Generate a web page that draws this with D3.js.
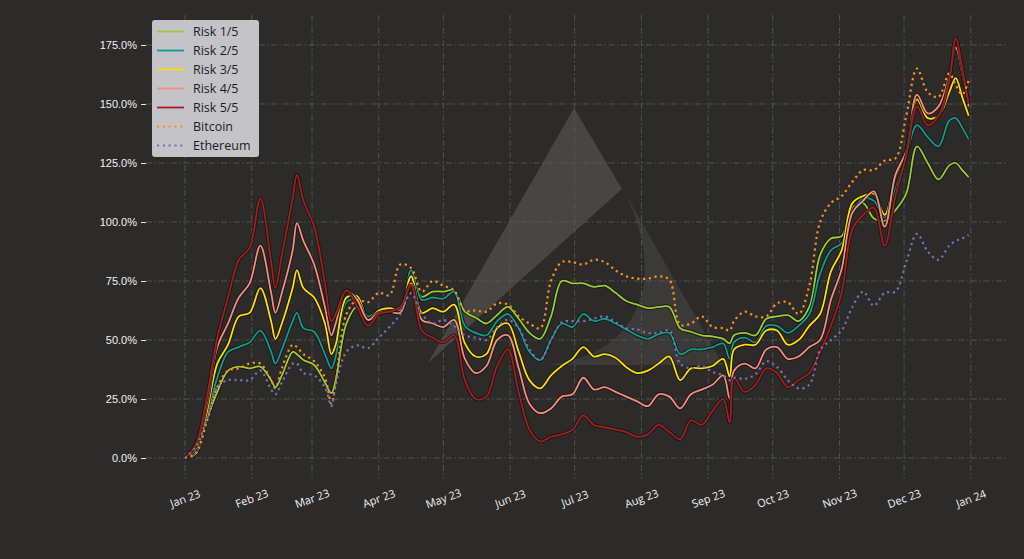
<!DOCTYPE html>
<html>
<head>
<meta charset="utf-8">
<script src="https://cdn.jsdelivr.net/npm/d3@7"></script>
<style>
  html, body { margin: 0; padding: 0; background: #2c2b29; }
  svg { display: block; font-family: "Open Sans", "Noto Sans", sans-serif; }
</style>
</head>
<body>
<svg id="chart" width="1024" height="559"></svg>
<script>
// ============================================================
// Risk portfolios vs Bitcoin / Ethereum — cumulative return 2023
// ============================================================

// day offsets from 2023-01-01
const DAYS = [0,5,10,15,20,25,30,35,40,42,45,50,52,55,60,65,68,70,75,80,85,90,95,100,105,110,115,120,125,130,135,140,145,150,155,160,165,170,175,180,185,190,195,200,205,210,215,220,225,230,235,240,245,250,253,255,260,265,270,275,280,285,290,295,300,305,310,315,320,325,330,335,340,345,350,355,358,361,364];

// cumulative return, %
const RISK_1 = [0,2,16,28,37,38.7,38,38.7,33,30,35,45,44,41.5,39.4,32,27.5,33,57,64,58.7,62,63,61.5,77.5,68.3,70.5,70.5,71,62,59.5,57,60.6,64,59,53,50.5,60,75,74,74,72.5,73,70,66.5,65,63.5,64,64,55,53.5,52,51.5,50.5,48.6,52,53,52,59,60,60.5,58,64,86,93,94,106,108,101.5,100.5,105,112,132,125,118,124,125,122,119];
const RISK_2 = [0,3,17.5,34,45,47,49,54,45,40,46,58,61.5,55,53.5,44,38,43,66,67,60,62.5,63,62,79.6,67,68,67.5,70.5,56,53,52,58,61,55,45,41.5,50,57,55.5,61,58,59,57,54.5,52,50.5,52.5,53,44,46,46,47,48.5,42,49,51,49,56,56,53,56,61,78,88,91,104,110,109,102,114,128,141,136,132,143,144,140,135];
const RISK_3 = [0,4,19,40,48,60,61.5,72,58,50.4,57,72,79.6,72,68,57,44,48,68,68.5,58.5,62.5,63.5,63,77,61.5,63.5,62,65,48.6,43,44,55,57,45,33,29.5,35,39,42,47,43,44,42.5,38.5,36,37,40,43,33,38,38,39,42,34.5,46,48,48,54,54,48,50,56,61,79,88,108,111,112,103,119,130,152,144,145,155,161,153,145];
const RISK_4 = [0,5,22.5,47,57,68,74,90,70,61.5,70,88,99.5,92,82,64,52,57,71,67,58.5,61.5,62,61.5,74,58.5,57,55.5,58.5,42,36,39,50,52,38,23,19,21,26,27,34,29,30,28,26,24,22,27,26,21,27,29,31,35,25,37,40,38,46,47,42,43,47,50,67,80,104,109,113,98,120,130,154,146,149,162,174,163,149];
const RISK_5 = [0,5.5,25,51,68,84,89,110,83,72,86,110,120,109,98,74,58,61,71,64,56,61,62,64,73,54,51,49,52,33,25,26,39,46,28,12,7,9,10,12,18,14,13,12,11,9,10,14,11,8,16,14,20,25,15,34,28,31,38,36,30,33,36,45,56,70,97,103,106,90,111,128,149,141,145,160,178,165,150];
const BITCOIN = [0,2,15,30,37,38,40,40,33,29.6,38,48,47,44,41,34,23,32,61,67,66,70,69,82,80.5,70.5,75,73,71,62.5,62.5,62,65.5,65,60,57,55,75,83,83,82,84,83,79.5,77,76,76,77,75.5,56.5,57,60,55.5,55,54,58,62,60,60,65.5,66,61,73,100,108,111,117,122,122,126,127,145,165,155,153,163,158,154,160];
const ETHEREUM = [0,4.8,16,30,33,33,33,37,29,27,32,40,40,36,35,30,22,31,45,47.7,46.5,51,55.5,61,69.8,61,57,58.5,56,52,51,50,55.5,58.5,55,46,41.5,50,57.5,58,58,59,60,57.5,55,54.5,53,53,54,40,38,39,36.5,35,33,34,33.5,35.5,41,38.5,33,29.5,31,45.7,50,54,64,70.5,64.5,70,70.5,83,95,87.5,84,90,92,93,94.5];

const SERIES_NAMES = ['Risk 1/5', 'Risk 2/5', 'Risk 3/5', 'Risk 4/5', 'Risk 5/5', 'Bitcoin', 'Ethereum'];
const Y_TICKS = [0, 25, 50, 75, 100, 125, 150, 175];
const X_TICK_LABELS = ['Jan 23','Feb 23','Mar 23','Apr 23','May 23','Jun 23','Jul 23','Aug 23','Sep 23','Oct 23','Nov 23','Dec 23','Jan 24'];

// estilos por série
const STYLES = [
  { color: '#9acd32', dotted: false },
  { color: '#129a8d', dotted: false },
  { color: '#ffdd00', dotted: false },
  { color: '#f88d7c', dotted: false },
  { color: '#a41e1b', dotted: false },
  { color: '#f7931a', dotted: true },
  { color: '#7a6fb4', dotted: true },
];

const W = 1024, H = 559;
const PLOT = { left: 146, right: 1008, top: 15, bottom: 479 };
const START = new Date(2023, 0, 1);

const dayToDate = d => new Date(2023, 0, 1 + d);

const x = d3.scaleTime()
  .domain([START, new Date(2024, 0, 1)])
  .range([185, 970.8]);

const y = d3.scaleLinear()
  .domain([0, 175])
  .range([458, 45]);

const svg = d3.select('#chart');

svg.append('rect').attr('width', W).attr('height', H).attr('fill', '#2c2b29');

// marca d'água
const wm = svg.append('g').attr('pointer-events', 'none');
wm.append('path')
  .attr('d', 'M574,108 L622,189 L428,363 Z')
  .attr('fill', '#ffffff').attr('opacity', 0.13);
wm.append('path')
  .attr('d', 'M625,193 L723,365 L548,365 C640,355 668,280 625,193 Z')
  .attr('fill', '#ffffff').attr('opacity', 0.075);

// grade
const grid = svg.append('g').attr('stroke', '#5b5a58').attr('stroke-width', 0.8)
  .attr('stroke-dasharray', '6,2.5,1.5,2.5');
const monthTicks = X_TICK_LABELS.map((_, i) => new Date(2023, i, 1));
grid.selectAll('line.v')
  .data(monthTicks)
  .join('line')
  .attr('class', 'v')
  .attr('x1', d => x(d)).attr('x2', d => x(d))
  .attr('y1', PLOT.top).attr('y2', PLOT.bottom);
grid.selectAll('line.h')
  .data(Y_TICKS)
  .join('line')
  .attr('class', 'h')
  .attr('x1', PLOT.left).attr('x2', PLOT.right)
  .attr('y1', d => y(d)).attr('y2', d => y(d));

// eixo Y
const yAxis = d3.axisLeft(y)
  .tickValues(Y_TICKS)
  .tickSize(5)
  .tickPadding(4)
  .tickFormat(d => d3.format('.1f')(d) + '%');
const gy = svg.append('g')
  .attr('transform', `translate(${PLOT.left},0)`)
  .call(yAxis);
gy.select('.domain').remove();
gy.selectAll('line').attr('stroke', '#e8e8e8').attr('stroke-width', 1);
gy.selectAll('text').attr('fill', '#f2f2f2').attr('font-size', 11);

// eixo X (rótulos rotacionados)
const gx = svg.append('g');
gx.selectAll('text')
  .data(monthTicks)
  .join('text')
  .attr('transform', d => `translate(${x(d)},498) rotate(-20)`)
  .attr('text-anchor', 'middle')
  .attr('dominant-baseline', 'central')
  .attr('fill', '#f2f2f2')
  .attr('font-size', 11)
  .text((d, i) => X_TICK_LABELS[i]);

// séries
const seriesValues = [RISK_1, RISK_2, RISK_3, RISK_4, RISK_5, BITCOIN, ETHEREUM];
const series = seriesValues.map((vals, i) => ({
  name: SERIES_NAMES[i],
  style: STYLES[i],
  points: vals.map((v, j) => ({ date: dayToDate(DAYS[j]), value: v })),
}));

const line = d3.line()
  .x(d => x(d.date))
  .y(d => y(d.value))
  .curve(d3.curveCatmullRom.alpha(0.5));

const gLines = svg.append('g').attr('fill', 'none');
series.forEach(s => {
  if (!s.style.dotted) {
    gLines.append('path')
      .attr('d', line(s.points))
      .attr('stroke', '#141414')
      .attr('stroke-opacity', 0.85)
      .attr('stroke-width', 3.6)
      .attr('stroke-linejoin', 'round');
    gLines.append('path')
      .attr('d', line(s.points))
      .attr('stroke', s.style.color)
      .attr('stroke-width', 1.8)
      .attr('stroke-linejoin', 'round');
  } else {
    gLines.append('path')
      .attr('d', line(s.points))
      .attr('stroke', s.style.color)
      .attr('stroke-width', 2.2)
      .attr('stroke-dasharray', '2.2,3.6');
  }
});

// legenda
const legend = svg.append('g').attr('transform', 'translate(152,20)');
legend.append('rect')
  .attr('width', 107).attr('height', 137)
  .attr('rx', 3)
  .attr('fill', '#d0d0d4')
  .attr('fill-opacity', 0.93);
series.forEach((s, i) => {
  const ly = 11.5 + i * 19;
  legend.append('line')
    .attr('x1', 5).attr('x2', 32)
    .attr('y1', ly).attr('y2', ly)
    .attr('stroke', s.style.color)
    .attr('stroke-width', s.style.dotted ? 2.2 : 1.8)
    .attr('stroke-dasharray', s.style.dotted ? '2.2,3.6' : null);
  legend.append('text')
    .attr('x', 41).attr('y', ly)
    .attr('dominant-baseline', 'central')
    .attr('fill', '#1c1c1c')
    .attr('font-size', 12.5)
    .text(s.name);
});
</script>
</body>
</html>
